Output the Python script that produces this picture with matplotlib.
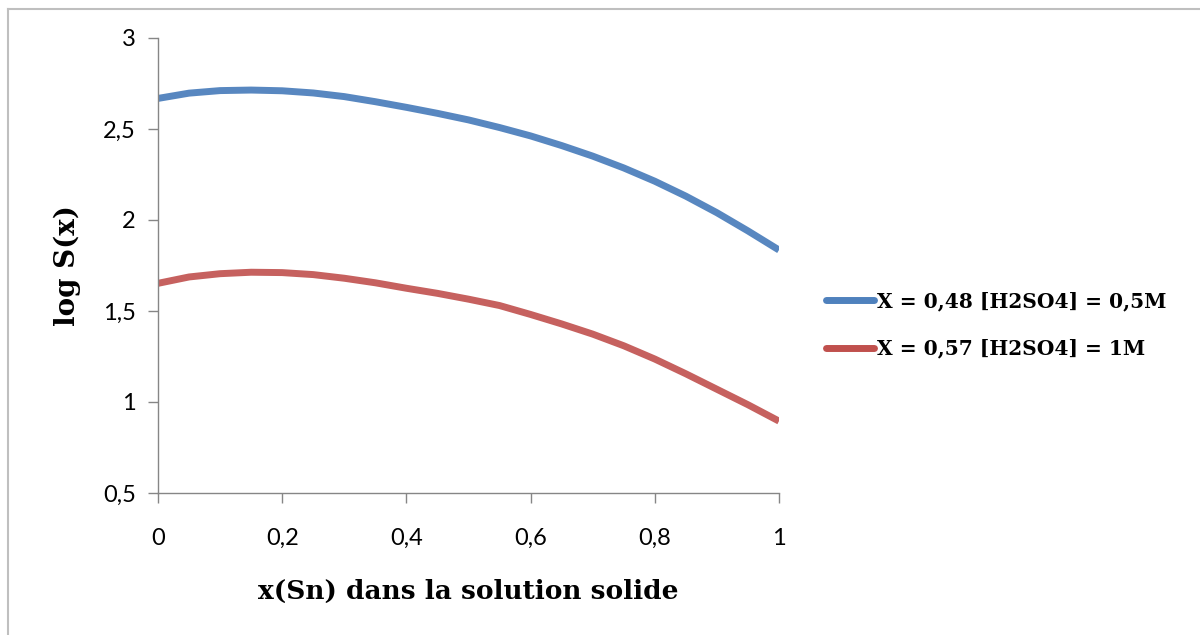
import matplotlib.pyplot as plt
from matplotlib.lines import Line2D
from matplotlib.ticker import FuncFormatter

# values
x_sn = [0, 0.05, 0.1, 0.15, 0.2, 0.25, 0.3, 0.35, 0.4, 0.45, 0.5,
        0.55, 0.6, 0.65, 0.7, 0.75, 0.8, 0.85, 0.9, 0.95, 1.0]
logS_05M = [2.668, 2.697, 2.711, 2.714, 2.710, 2.698, 2.678, 2.650, 2.619, 2.586, 2.550,
            2.508, 2.462, 2.409, 2.351, 2.286, 2.213, 2.131, 2.040, 1.940, 1.835]
logS_1M = [1.652, 1.687, 1.705, 1.713, 1.711, 1.700, 1.680, 1.655, 1.625, 1.597, 1.565,
           1.530, 1.481, 1.429, 1.373, 1.309, 1.236, 1.155, 1.070, 0.985, 0.895]
labels = ["X = 0,48 [H2SO4] = 0,5M", "X = 0,57 [H2SO4] = 1M"]
x_ticks = [0, 0.2, 0.4, 0.6, 0.8, 1]
y_ticks = [0.5, 1, 1.5, 2, 2.5, 3]

blue = "#4f81bd"
red = "#c0504d"
gray = "#868686"

fig = plt.figure(figsize=(12, 6.35), dpi=100)
ax = fig.add_axes([158 / 1200, 1 - 493 / 635, (779 - 158) / 1200, (493 - 38) / 635])

ax.plot(x_sn, logS_05M, color=blue, lw=5, alpha=0.95, solid_capstyle="butt")
ax.plot(x_sn, logS_1M, color=red, lw=5, alpha=0.9, solid_capstyle="butt")

ax.set_xlim(0, 1)
ax.set_ylim(0.5, 3)
ax.set_xticks(x_ticks)
ax.set_yticks(y_ticks)
comma = FuncFormatter(lambda v, p: f"{v:g}".replace(".", ","))
ax.xaxis.set_major_formatter(comma)
ax.yaxis.set_major_formatter(comma)

for s in ["top", "right"]:
    ax.spines[s].set_visible(False)
for s in ["left", "bottom"]:
    ax.spines[s].set_color(gray)
    ax.spines[s].set_linewidth(1)
ax.tick_params(colors=gray, length=7, width=1, labelcolor="black", labelsize=17)
ax.tick_params(axis="x", pad=18)
ax.tick_params(axis="y", pad=9)
for lab in ax.get_xticklabels() + ax.get_yticklabels():
    lab.set_family("Lato")

ax.set_xlabel("x(Sn) dans la solution solide", family="DejaVu Serif", fontsize=19,
              fontweight="bold", labelpad=22)
ax.set_ylabel("log S(x)", family="DejaVu Serif", fontsize=20, fontweight="bold", labelpad=16)

handles = [Line2D([], [], color=blue, lw=5, solid_capstyle="round"),
           Line2D([], [], color=red, lw=5, solid_capstyle="round")]
fig.legend(handles, labels, loc="center left", bbox_to_anchor=(826 / 1200, 1 - 325 / 635),
           frameon=False, borderpad=0, borderaxespad=0, handlelength=2.4, handletextpad=0.15,
           labelspacing=1.35, prop={"family": "DejaVu Serif", "weight": "bold", "size": 14.5})

# chart area frame
fig.add_artist(Line2D([8 / 1200, 8 / 1200], [0, 1 - 9 / 635], color="#bfbfbf", lw=1.5))
fig.add_artist(Line2D([8 / 1200, 1], [1 - 9 / 635, 1 - 9 / 635], color="#bfbfbf", lw=1.5))

fig.savefig("out.png", dpi=100)
